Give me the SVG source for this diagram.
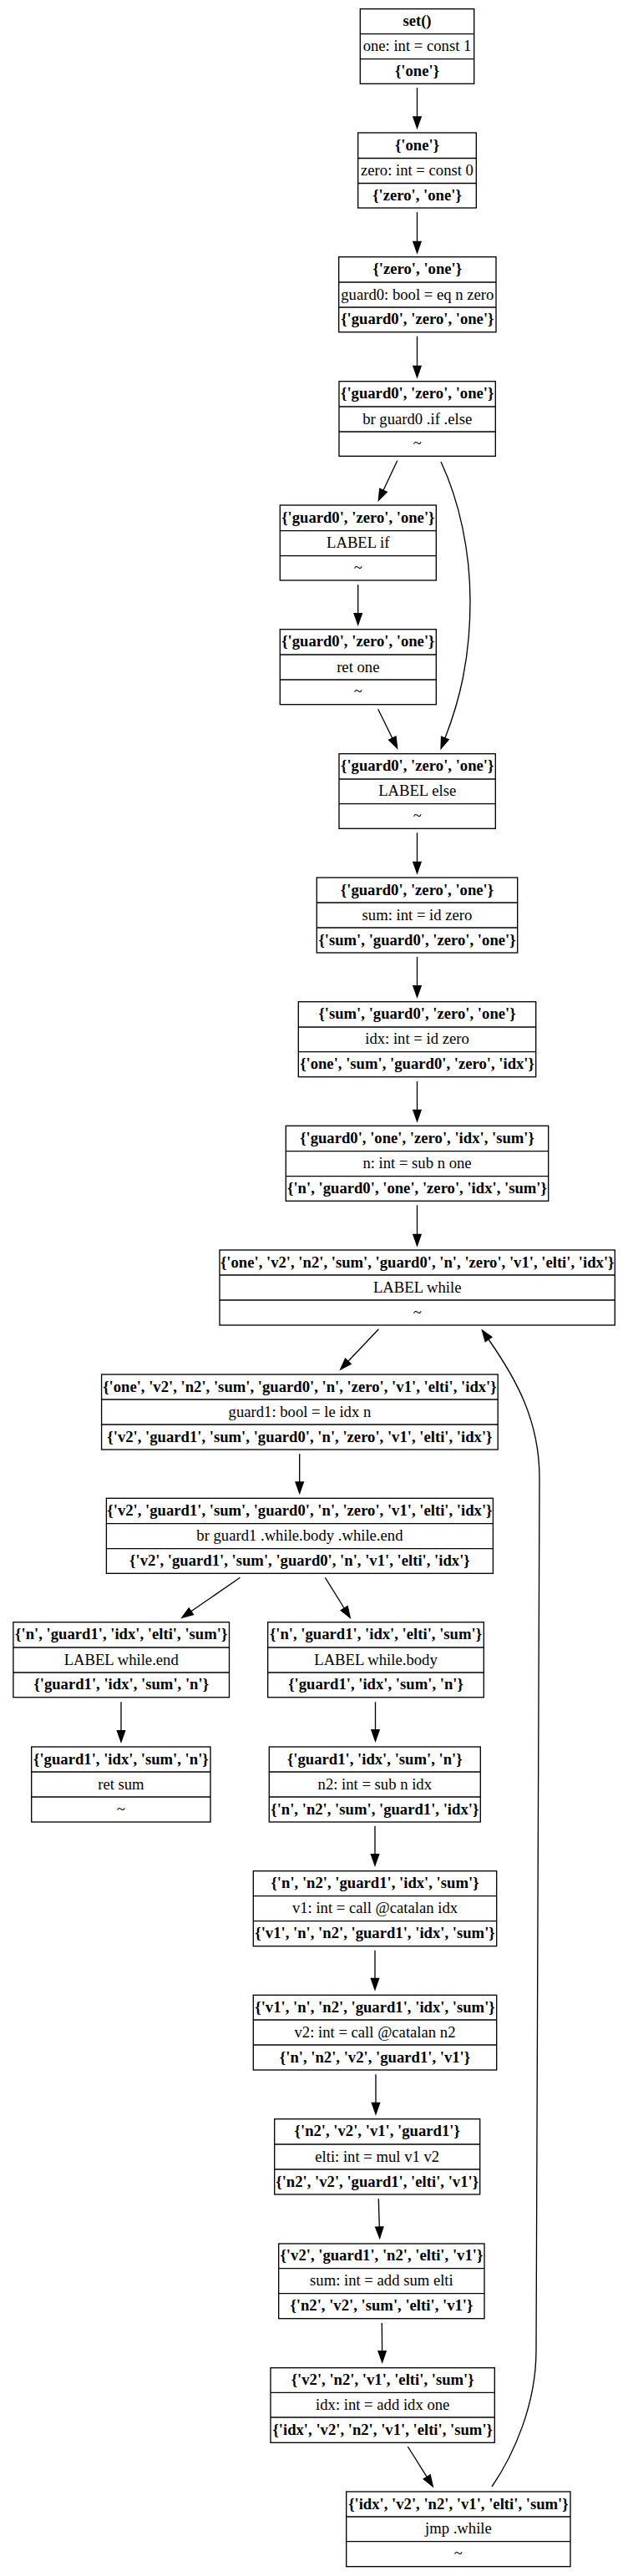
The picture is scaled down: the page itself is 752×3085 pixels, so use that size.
<svg xmlns="http://www.w3.org/2000/svg" width="752" height="3085" viewBox="0 0 752 3085">
<style>
.nd rect{fill:#fff;stroke:#000;stroke-width:1.33}
.nd line{stroke:#000;stroke-width:1.33}
text{font-family:"Liberation Serif","Times New Roman",serif;font-size:18.67px;text-anchor:middle;fill:#000}
.b{font-weight:bold}
#edges path{fill:none;stroke:#000;stroke-width:1.33;marker-end:url(#ah)}
</style>
<defs>
<marker id="ah" markerUnits="userSpaceOnUse" markerWidth="13.33" markerHeight="9.33" viewBox="0 0 13.33 9.33" refX="0" refY="4.67" orient="auto" overflow="visible">
<path d="M0,0 L13.33,4.67 L0,9.33 z" fill="#000" stroke="#000" stroke-width="1.33"/>
</marker>
</defs>
<rect width="752" height="3085" fill="#fff"/>
<g id="edges">
<path d="M499.5,105 V140"/>
<path d="M499.5,254 V289.4"/>
<path d="M499.5,402.7 V438.4"/>
<path d="M475.7,551.7 L459,587.2"/>
<path d="M528,553 C550,600 563,660 563,720 C563,790 550,840 532.9,884"/>
<path d="M428.7,700.3 V734.7"/>
<path d="M452.7,849.3 L469.8,884"/>
<path d="M499.5,997.3 V1032.4"/>
<path d="M499.5,1146 V1180.7"/>
<path d="M499.5,1295 V1329.4"/>
<path d="M499.5,1443.3 V1478.4"/>
<path d="M453.4,1591.7 L416.9,1630.3"/>
<path d="M358.7,1741 V1775"/>
<path d="M287.5,1889.3 L228.8,1929.7"/>
<path d="M389.4,1889.3 L412.2,1926"/>
<path d="M145,2038.3 V2072.7"/>
<path d="M449.5,2038.3 V2071.7"/>
<path d="M449,2187 V2220.7"/>
<path d="M449,2335.7 V2369.4"/>
<path d="M450,2484.3 V2518.4"/>
<path d="M453.3,2633.3 L454.3,2667"/>
<path d="M457.3,2782 L457.6,2815.7"/>
<path d="M488.3,2930 L511.2,2966.4"/>
<path d="M589,2978 C615,2940 642,2880 642,2815 C642,2400 646,2000 646,1770 C646,1700 617,1650 585,1604"/>
</g>
<g id="n1" class="nd"><rect x="431.3" y="10.7" width="136.4" height="89.6"/><line x1="431.3" y1="40.7" x2="567.7" y2="40.7"/><line x1="431.3" y1="70.7" x2="567.7" y2="70.7"/>
<text class="b" x="499.5" y="31.2">set()</text><text x="499.5" y="61.2">one: int = const 1</text><text class="b" x="499.5" y="91">{'one'}</text></g>
<g id="n2" class="nd"><rect x="428.7" y="159" width="141.6" height="90"/><line x1="428.7" y1="189.5" x2="570.3" y2="189.5"/><line x1="428.7" y1="219.5" x2="570.3" y2="219.5"/>
<text class="b" x="499.5" y="179.8">{'one'}</text><text x="499.5" y="210">zero: int = const 0</text><text class="b" x="499.5" y="239.8">{'zero', 'one'}</text></g>
<g id="n3" class="nd"><rect x="405.7" y="307.7" width="188.3" height="90"/><line x1="405.7" y1="338" x2="594" y2="338"/><line x1="405.7" y1="368" x2="594" y2="368"/>
<text class="b" x="499.8" y="328.4">{'zero', 'one'}</text><text x="499.8" y="358.5">guard0: bool = eq n zero</text><text class="b" x="499.8" y="388.4">{'guard0', 'zero', 'one'}</text></g>
<g id="n4" class="nd"><rect x="406" y="456.7" width="187.3" height="89.6"/><line x1="406" y1="487" x2="593.3" y2="487"/><line x1="406" y1="517" x2="593.3" y2="517"/>
<text class="b" x="499.7" y="477.4">{'guard0', 'zero', 'one'}</text><text x="499.7" y="507.5">br guard0 .if .else</text><text x="499.7" y="537.2">~</text></g>
<g id="n5" class="nd"><rect x="335.3" y="605" width="187" height="90"/><line x1="335.3" y1="635.7" x2="522.3" y2="635.7"/><line x1="335.3" y1="665.7" x2="522.3" y2="665.7"/>
<text class="b" x="428.8" y="625.9">{'guard0', 'zero', 'one'}</text><text x="428.8" y="656.2">LABEL if</text><text x="428.8" y="685.9">~</text></g>
<g id="n6" class="nd"><rect x="335.3" y="753.7" width="187" height="90"/><line x1="335.3" y1="784" x2="522.3" y2="784"/><line x1="335.3" y1="814" x2="522.3" y2="814"/>
<text class="b" x="428.8" y="774.4">{'guard0', 'zero', 'one'}</text><text x="428.8" y="804.5">ret one</text><text x="428.8" y="834.4">~</text></g>
<g id="n7" class="nd"><rect x="406" y="902.7" width="187.3" height="89.6"/><line x1="406" y1="933" x2="593.3" y2="933"/><line x1="406" y1="962.7" x2="593.3" y2="962.7"/>
<text class="b" x="499.7" y="923.4">{'guard0', 'zero', 'one'}</text><text x="499.7" y="953.4">LABEL else</text><text x="499.7" y="983">~</text></g>
<g id="n8" class="nd"><rect x="379.3" y="1051" width="240.4" height="90"/><line x1="379.3" y1="1081" x2="619.7" y2="1081"/><line x1="379.3" y1="1111" x2="619.7" y2="1111"/>
<text class="b" x="499.5" y="1071.5">{'guard0', 'zero', 'one'}</text><text x="499.5" y="1101.5">sum: int = id zero</text><text class="b" x="499.5" y="1131.5">{'sum', 'guard0', 'zero', 'one'}</text></g>
<g id="n9" class="nd"><rect x="357.3" y="1199.7" width="284.4" height="90"/><line x1="357.3" y1="1230" x2="641.7" y2="1230"/><line x1="357.3" y1="1259.7" x2="641.7" y2="1259.7"/>
<text class="b" x="499.5" y="1220.4">{'sum', 'guard0', 'zero', 'one'}</text><text x="499.5" y="1250.4">idx: int = id zero</text><text class="b" x="499.5" y="1280.2">{'one', 'sum', 'guard0', 'zero', 'idx'}</text></g>
<g id="n10" class="nd"><rect x="342.3" y="1348.3" width="314.4" height="90"/><line x1="342.3" y1="1378.7" x2="656.7" y2="1378.7"/><line x1="342.3" y1="1408.7" x2="656.7" y2="1408.7"/>
<text class="b" x="499.5" y="1369">{'guard0', 'one', 'zero', 'idx', 'sum'}</text><text x="499.5" y="1399.2">n: int = sub n one</text><text class="b" x="499.5" y="1429">{'n', 'guard0', 'one', 'zero', 'idx', 'sum'}</text></g>
<g id="n11" class="nd"><rect x="263" y="1497" width="473.3" height="90"/><line x1="263" y1="1527" x2="736.3" y2="1527"/><line x1="263" y1="1557" x2="736.3" y2="1557"/>
<text class="b" x="499.7" y="1517.5">{'one', 'v2', 'n2', 'sum', 'guard0', 'n', 'zero', 'v1', 'elti', 'idx'}</text><text x="499.7" y="1547.5">LABEL while</text><text x="499.7" y="1577.5">~</text></g>
<g id="n12" class="nd"><rect x="121.6" y="1646" width="474.6" height="90"/><line x1="121.6" y1="1676" x2="596.2" y2="1676"/><line x1="121.6" y1="1706" x2="596.2" y2="1706"/>
<text class="b" x="358.9" y="1666.5">{'one', 'v2', 'n2', 'sum', 'guard0', 'n', 'zero', 'v1', 'elti', 'idx'}</text><text x="358.9" y="1696.5">guard1: bool = le idx n</text><text class="b" x="358.9" y="1726.5">{'v2', 'guard1', 'sum', 'guard0', 'n', 'zero', 'v1', 'elti', 'idx'}</text></g>
<g id="n13" class="nd"><rect x="127.4" y="1794.3" width="463" height="90"/><line x1="127.4" y1="1824.7" x2="590.4" y2="1824.7"/><line x1="127.4" y1="1854.7" x2="590.4" y2="1854.7"/>
<text class="b" x="358.9" y="1815">{'v2', 'guard1', 'sum', 'guard0', 'n', 'zero', 'v1', 'elti', 'idx'}</text><text x="358.9" y="1845.2">br guard1 .while.body .while.end</text><text class="b" x="358.9" y="1875">{'v2', 'guard1', 'sum', 'guard0', 'n', 'v1', 'elti', 'idx'}</text></g>
<g id="n14" class="nd"><rect x="15.9" y="1942.7" width="258.6" height="90"/><line x1="15.9" y1="1973" x2="274.5" y2="1973"/><line x1="15.9" y1="2003" x2="274.5" y2="2003"/>
<text class="b" x="145.2" y="1963.4">{'n', 'guard1', 'idx', 'elti', 'sum'}</text><text x="145.2" y="1993.5">LABEL while.end</text><text class="b" x="145.2" y="2023.4">{'guard1', 'idx', 'sum', 'n'}</text></g>
<g id="n15" class="nd"><rect x="320.7" y="1942.7" width="258.6" height="90"/><line x1="320.7" y1="1973" x2="579.3" y2="1973"/><line x1="320.7" y1="2003" x2="579.3" y2="2003"/>
<text class="b" x="450" y="1963.4">{'n', 'guard1', 'idx', 'elti', 'sum'}</text><text x="450" y="1993.5">LABEL while.body</text><text class="b" x="450" y="2023.4">{'guard1', 'idx', 'sum', 'n'}</text></g>
<g id="n23" class="nd"><rect x="37.7" y="2092" width="214.3" height="90"/><line x1="37.7" y1="2122" x2="252" y2="2122"/><line x1="37.7" y1="2152" x2="252" y2="2152"/>
<text class="b" x="144.9" y="2112.5">{'guard1', 'idx', 'sum', 'n'}</text><text x="144.9" y="2142.5">ret sum</text><text x="144.9" y="2172.5">~</text></g>
<g id="n16" class="nd"><rect x="322.3" y="2092" width="253" height="90"/><line x1="322.3" y1="2122" x2="575.3" y2="2122"/><line x1="322.3" y1="2152" x2="575.3" y2="2152"/>
<text class="b" x="448.8" y="2112.5">{'guard1', 'idx', 'sum', 'n'}</text><text x="448.8" y="2142.5">n2: int = sub n idx</text><text class="b" x="448.8" y="2172.5">{'n', 'n2', 'sum', 'guard1', 'idx'}</text></g>
<g id="n17" class="nd"><rect x="303.3" y="2240.7" width="291.4" height="90"/><line x1="303.3" y1="2270.7" x2="594.7" y2="2270.7"/><line x1="303.3" y1="2300.7" x2="594.7" y2="2300.7"/>
<text class="b" x="449" y="2261.2">{'n', 'n2', 'guard1', 'idx', 'sum'}</text><text x="449" y="2291.2">v1: int = call @catalan idx</text><text class="b" x="449" y="2321.2">{'v1', 'n', 'n2', 'guard1', 'idx', 'sum'}</text></g>
<g id="n18" class="nd"><rect x="303.3" y="2389.3" width="291.4" height="89.7"/><line x1="303.3" y1="2419" x2="594.7" y2="2419"/><line x1="303.3" y1="2449" x2="594.7" y2="2449"/>
<text class="b" x="449" y="2409.7">{'v1', 'n', 'n2', 'guard1', 'idx', 'sum'}</text><text x="449" y="2439.5">v2: int = call @catalan n2</text><text class="b" x="449" y="2469.5">{'n', 'n2', 'v2', 'guard1', 'v1'}</text></g>
<g id="n19" class="nd"><rect x="328.7" y="2537.7" width="246" height="90.3"/><line x1="328.7" y1="2568" x2="574.7" y2="2568"/><line x1="328.7" y1="2598" x2="574.7" y2="2598"/>
<text class="b" x="451.7" y="2558.4">{'n2', 'v2', 'v1', 'guard1'}</text><text x="451.7" y="2588.5">elti: int = mul v1 v2</text><text class="b" x="451.7" y="2618.5">{'n2', 'v2', 'guard1', 'elti', 'v1'}</text></g>
<g id="n20" class="nd"><rect x="333.7" y="2687" width="246.3" height="89.7"/><line x1="333.7" y1="2716.7" x2="580" y2="2716.7"/><line x1="333.7" y1="2746.7" x2="580" y2="2746.7"/>
<text class="b" x="456.9" y="2707.4">{'v2', 'guard1', 'n2', 'elti', 'v1'}</text><text x="456.9" y="2737.2">sum: int = add sum elti</text><text class="b" x="456.9" y="2767.2">{'n2', 'v2', 'sum', 'elti', 'v1'}</text></g>
<g id="n21" class="nd"><rect x="324" y="2835.7" width="268.3" height="89.6"/><line x1="324" y1="2865.3" x2="592.3" y2="2865.3"/><line x1="324" y1="2895" x2="592.3" y2="2895"/>
<text class="b" x="458.2" y="2856">{'v2', 'n2', 'v1', 'elti', 'sum'}</text><text x="458.2" y="2885.7">idx: int = add idx one</text><text class="b" x="458.2" y="2915.7">{'idx', 'v2', 'n2', 'v1', 'elti', 'sum'}</text></g>
<g id="n22" class="nd"><rect x="414.7" y="2984" width="268.3" height="89.7"/><line x1="414.7" y1="3014" x2="683" y2="3014"/><line x1="414.7" y1="3043.7" x2="683" y2="3043.7"/>
<text class="b" x="548.9" y="3004.5">{'idx', 'v2', 'n2', 'v1', 'elti', 'sum'}</text><text x="548.9" y="3034.4">jmp .while</text><text x="548.9" y="3064.2">~</text></g>
</svg>
